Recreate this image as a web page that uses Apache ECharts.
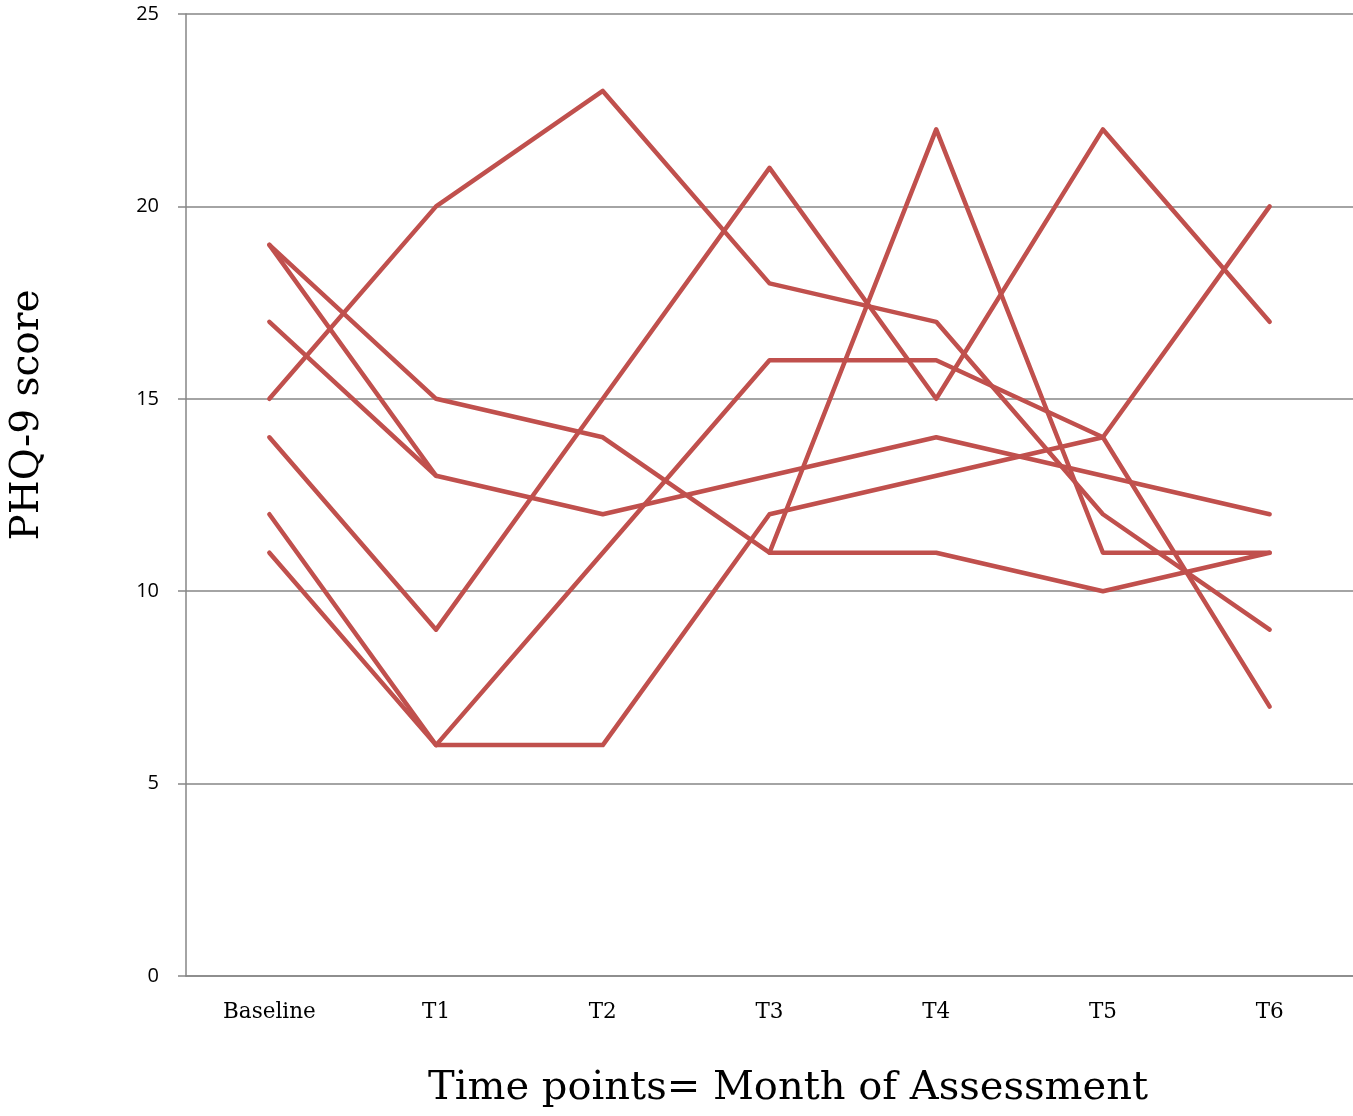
<!DOCTYPE html>
<html>
<head>
<meta charset="utf-8">
<script src="https://cdn.jsdelivr.net/npm/echarts@6/dist/echarts.min.js"></script>
<style>
html,body{margin:0;padding:0;background:#fff;}
#chart{width:1353px;height:1116px;}
</style>
</head>
<body>
<div id="chart"></div>
<script>
const categories = ['Baseline', 'T1', 'T2', 'T3', 'T4', 'T5', 'T6'];
const participant1 = [15, 20, 23, 18, 17, 12, 9];
const participant2 = [14, 9, 15, 21, 15, 22, 17];
const participant3 = [19, 15, 14, 11, 11, 10, 11];
const participant4 = [17, 13, null, 11, 22, 11, 11];
const participant5 = [19, 13, 12, 13, 14, 13, 12];
const participant6 = [12, 6, 11, 16, 16, 14, 20];
const participant7 = [11, 6, 6, 12, 13, 14, 7];
const yTicks = { min: 0, max: 25, interval: 5 };
const yTitle = 'PHQ-9 score';
const xTitle = 'Time points= Month of Assessment';

const allSeries = [participant1, participant2, participant3, participant4, participant5, participant6, participant7];

const chart = echarts.init(document.getElementById('chart'));
chart.setOption({
  animation: false,
  backgroundColor: '#ffffff',
  grid: { left: 186, right: 0, top: 14, bottom: 140, containLabel: false },
  xAxis: {
    type: 'category',
    data: categories,
    boundaryGap: true,
    axisLine: { show: true, lineStyle: { color: '#868686', width: 1.5 } },
    axisTick: { show: false },
    axisLabel: { color: '#000', fontFamily: 'DejaVu Serif', fontSize: 21.5, margin: 25 },
    splitLine: { show: false }
  },
  yAxis: {
    type: 'value',
    min: yTicks.min, max: yTicks.max, interval: yTicks.interval,
    axisLine: { show: true, lineStyle: { color: '#868686', width: 1.5 } },
    axisTick: { show: true, length: 8, lineStyle: { color: '#868686', width: 1.5 } },
    axisLabel: { color: '#000', fontFamily: 'Open Sans', fontSize: 20, margin: 27 },
    splitLine: { show: true, lineStyle: { color: '#868686', width: 1.5 } }
  },
  graphic: [
    { type: 'text', x: 28, y: 415, rotation: Math.PI / 2,
      style: { text: yTitle, fontFamily: 'DejaVu Serif', fontSize: 39, fill: '#000', textAlign: 'center', textVerticalAlign: 'middle' } },
    { type: 'text', x: 788, y: 1089,
      style: { text: xTitle, fontFamily: 'DejaVu Serif', fontSize: 40, fill: '#000', textAlign: 'center', textVerticalAlign: 'middle' } }
  ],
  series: allSeries.map((d, i) => ({
    type: 'line',
    name: 'P' + (i + 1),
    data: d,
    symbol: 'none',
    connectNulls: false,
    lineStyle: { color: '#C0504D', width: 4.5, cap: 'round', join: 'round' },
    itemStyle: { color: '#C0504D' }
  }))
});
</script>
</body>
</html>
